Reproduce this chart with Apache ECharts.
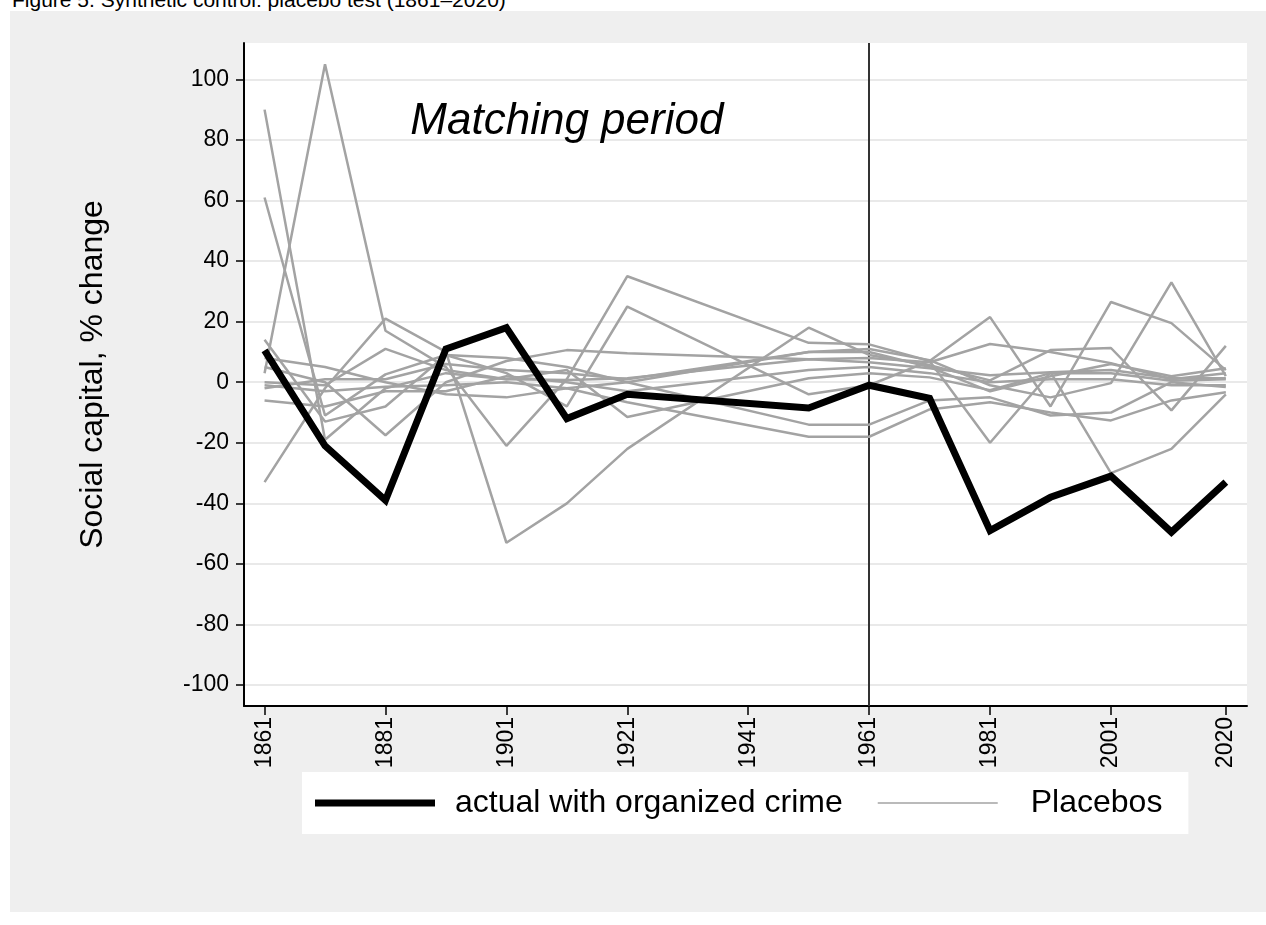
<!DOCTYPE html>
<html>
<head>
<meta charset="utf-8">
<script src="https://cdn.jsdelivr.net/npm/echarts@6/dist/echarts.min.js"></script>
<style>
  html, body { margin: 0; padding: 0; background: #ffffff; width: 1266px; height: 925px; overflow: hidden; }
  #title { position: absolute; left: 12px; top: -11px; font: 21px/21px "Liberation Sans", Arial, sans-serif; color: #000; white-space: nowrap; }
  #chart { position: absolute; left: 10px; top: 11px; width: 1256px; height: 901px; background: #efefef; }
</style>
</head>
<body>
<div id="title">Figure 5. Synthetic control: placebo test (1861–2020)</div>
<div id="chart"></div>
<script>
// ---- data ----
const years = [1861, 1871, 1881, 1891, 1901, 1911, 1921, 1951, 1961, 1971, 1981, 1991, 2001, 2011, 2020];
const actual = [10.5, -21, -39, 11, 18, -12, -4, -8.5, -1, -5.3, -49, -38, -31, -49.5, -33];
const placebo1  = [90, -19, -2, 3, 1, 0.7, 1.3, 7.6, 6.6, 4.6, 2.3, 3.3, 4, 1.3, 1.3];
const placebo2  = [61, -11, 2.6, 9, 8, 5, 0, -14, -14, -6, -5, -11, -10, 0, -1.6];
const placebo3  = [3, 105, 17, 5, -21, 1, 35, 13, 12.5, 7, 21.5, -8, 26.5, 19.5, 4];
const placebo4  = [-33, -2, 21, 10, -53, -40, -22, 18, 9, 5.6, 0.6, 10.6, 11.3, -9.3, 12];
const placebo5  = [14, -13, -8, 9, 3, -8, 25, -4, -1, 7, -20, 3.3, -30, -22, -4];
const placebo6  = [8, 5, 0, -4, -5, -2, -6.6, -18, -18, -9, -6.6, -10, -12.6, -6, -3.3];
const placebo7  = [5, 0, -17.5, 0, 7, 10.6, 9.6, 7.6, 8, 6.6, 12.6, 10, 6.3, 1, 3];
const placebo8  = [0, -1, 11, 4, 1, 4, -11.5, 1.3, 3, 1.6, -2.6, 3, 3, 0.5, 1];
const placebo9  = [-1, -3, -1.5, -1, 0, -2, 0, 10, 11, 7.3, -1, -5, -0.3, 33, 2];
const placebo10 = [-6, -8, -3, -3, 2, 0, -3, 4, 5, 3, 0, 1, 1, -1, -1];
const placebo11 = [-2, 1, 1, 6, 4, 3, 1, 10, 10, 5, -3, 2, 6, 2, 4.6];
const placebos = [placebo1, placebo2, placebo3, placebo4, placebo5, placebo6, placebo7, placebo8, placebo9, placebo10, placebo11];
const xTicks = [1861, 1881, 1901, 1921, 1941, 1961, 1981, 2001, 2020];
const yTicks = [-100, -80, -60, -40, -20, 0, 20, 40, 60, 80, 100];
const treatYear = 1961;
const annotation = { text: 'Matching period', year: 1911, value: 86 };
const actualName = 'actual with organized crime';
const placeboName = 'Placebos';
const yTitle = 'Social capital, % change';

// ---- chart ----
const FONT = '"Liberation Sans", Arial, sans-serif';
const pair = arr => years.map((y, i) => [y, arr[i]]);

const series = placebos.map(p => ({
  name: placeboName,
  type: 'line',
  data: pair(p),
  symbol: 'none',
  lineStyle: { color: '#a3a3a3', width: 2.5 },
  itemStyle: { color: '#a3a3a3' },
  z: 2,
  silent: true
}));
series.push({
  name: actualName,
  type: 'line',
  data: pair(actual),
  symbol: 'none',
  lineStyle: { color: '#000000', width: 7, join: 'miter' },
  itemStyle: { color: '#000000' },
  z: 5,
  markLine: {
    silent: true,
    symbol: 'none',
    label: { show: false },
    lineStyle: { color: '#333333', width: 2, type: 'solid' },
    data: [{ xAxis: treatYear }],
    z: 1
  },
  markPoint: {
    silent: true,
    symbol: 'circle',
    symbolSize: 0,
    data: [{ coord: [annotation.year, annotation.value], value: annotation.text }],
    label: {
      show: true,
      position: 'inside',
      formatter: annotation.text,
      fontFamily: FONT,
      fontSize: 44,
      fontStyle: 'italic',
      color: '#000'
    }
  }
});

const chart = echarts.init(document.getElementById('chart'), null, { renderer: 'canvas' });
chart.setOption({
  animation: false,
  backgroundColor: '#efefef',
  textStyle: { fontFamily: FONT },
  grid: {
    left: 234, right: 19, top: 32, bottom: 206,
    show: true, backgroundColor: '#ffffff', borderWidth: 0,
    containLabel: false
  },
  legend: {
    data: [
      { name: actualName, icon: 'path://M0,0 L120,0 L120,7 L0,7 Z',
        itemStyle: { color: '#000000' },
        textStyle: { padding: [0, 0, 0, 15] } },
      { name: placeboName, icon: 'path://M0,0 L120,0 L120,1.6 L0,1.6 Z',
        itemStyle: { color: '#a3a3a3' },
        textStyle: { padding: [0, 0, 0, 28] } }
    ],
    orient: 'horizontal',
    left: 292, top: 761,
    backgroundColor: '#ffffff',
    padding: [15, 26, 15, 13],
    itemWidth: 120, itemHeight: 30,
    itemGap: 35,
    symbolKeepAspect: true,
    selectedMode: false,
    textStyle: { fontFamily: FONT, fontSize: 32, color: '#000' }
  },
  xAxis: {
    type: 'value',
    min: 1857.6, max: 2023.5,
    axisLine: { show: true, onZero: false, lineStyle: { color: '#000', width: 2 } },
    axisTick: { show: true, length: 9, lineStyle: { color: '#000', width: 1.5 }, customValues: xTicks },
    axisLabel: { customValues: xTicks, rotate: 90, fontSize: 23, color: '#000', margin: 11, fontFamily: FONT,
                 formatter: v => String(v) },
    splitLine: { show: false }
  },
  yAxis: {
    type: 'value',
    min: -106.9, max: 112,
    name: yTitle,
    nameLocation: 'middle',
    nameGap: 135,
    nameRotate: 90,
    nameTextStyle: { fontSize: 32, color: '#000', fontFamily: FONT },
    axisLine: { show: true, onZero: false, lineStyle: { color: '#000', width: 2 } },
    axisTick: { show: true, length: 8, lineStyle: { color: '#000', width: 1.5 }, customValues: yTicks },
    axisLabel: { customValues: yTicks, fontSize: 23, color: '#000', margin: 15, fontFamily: FONT,
                 formatter: v => String(v) },
    splitLine: { show: true, lineStyle: { color: '#e9e9e9', width: 2 } }
  },
  series: series
});
</script>
</body>
</html>
